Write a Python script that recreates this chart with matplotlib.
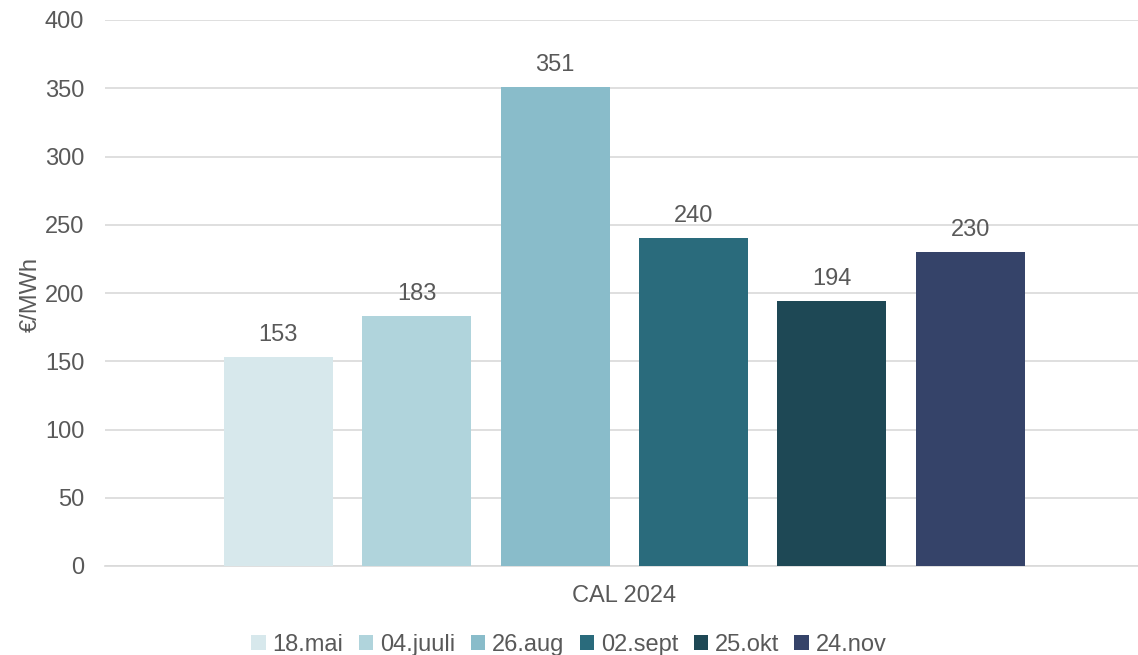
import matplotlib
matplotlib.use("Agg")
import matplotlib.pyplot as plt
import numpy as np

plt.rcParams['font.family'] = ['Liberation Sans', 'DejaVu Sans']

category = "CAL 2024"
dates = ["18.mai", "04.juuli", "26.aug", "02.sept", "25.okt", "24.nov"]
prices = [153, 183, 351, 240, 194, 230]
colors = ["#D7E8EC", "#B0D4DC", "#89BCCA", "#2A6B7C", "#1E4855", "#354369"]
y_ticks = [0, 50, 100, 150, 200, 250, 300, 350, 400]

text_color = "#595959"
fs = 17

fig = plt.figure(figsize=(11.38, 6.55), dpi=100)
ax = fig.add_axes([105 / 1138, 1 - 566 / 655, 1033 / 1138, 546 / 655])

n = len(dates)
offsets = np.arange(n) - (n - 1) / 2
bar_w = 109 / 138.5
for off, d, v, c in zip(offsets, dates, prices, colors):
    ax.bar(off, v, width=bar_w, color=c, label=d, zorder=3)
    ax.text(off, v + 8, f"{v}", ha="center", va="bottom",
            fontsize=fs, color=text_color)

ax.set_xlim(-3.75, 3.71)
ax.set_ylim(0, 400)
ax.set_yticks(y_ticks)
ax.set_xticks([0])
ax.set_xticklabels([category])
ax.tick_params(axis="y", length=0, labelsize=fs, labelcolor=text_color, pad=15)
ax.tick_params(axis="x", length=0, labelsize=fs, labelcolor=text_color, pad=14)
ax.yaxis.grid(True, color="#D9D9D9", linewidth=1.2, zorder=0)
for s in ["top", "right", "left"]:
    ax.spines[s].set_visible(False)
ax.spines["bottom"].set_color("#D9D9D9")
ax.spines["bottom"].set_linewidth(1.2)
ax.set_ylabel("€/MWh", fontsize=fs, color=text_color, va="center")
ax.yaxis.set_label_coords(-0.072, 0.497)

handles, labels = ax.get_legend_handles_labels()
leg = fig.legend(handles, labels, loc="center", bbox_to_anchor=(0.5, 1 - 645 / 655),
                 ncol=n, frameon=False, fontsize=fs, handlelength=0.6,
                 handleheight=0.6, handletextpad=0.3, columnspacing=0.65)
for t in leg.get_texts():
    t.set_color(text_color)

fig.savefig("out.png", dpi=100)
